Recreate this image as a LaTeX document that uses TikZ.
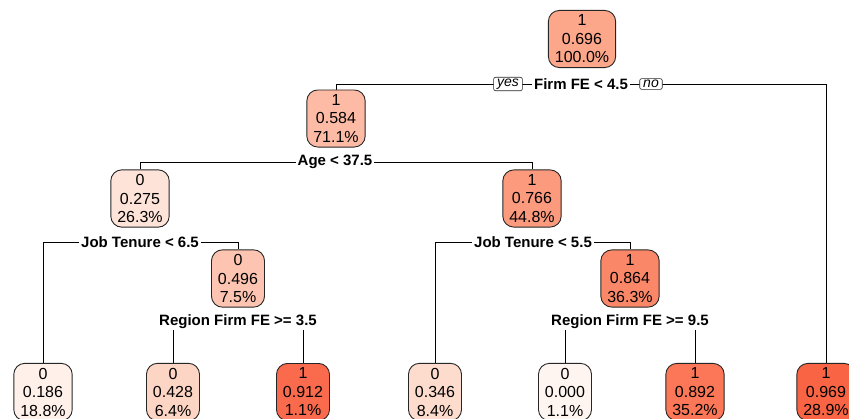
\documentclass[tikz,border=0pt]{standalone}
\usepackage{fontspec}
\setmainfont{Liberation Sans}
\usetikzlibrary{backgrounds}
\definecolor{pA}{HTML}{FCA68A}
\definecolor{pB}{HTML}{FDBBA5}
\definecolor{pC}{HTML}{FEE3D9}
\definecolor{pD}{HTML}{FC9A7E}
\definecolor{pE}{HTML}{FDC5B1}
\definecolor{pF}{HTML}{FB8769}
\definecolor{pG}{HTML}{FFF0EA}
\definecolor{pH}{HTML}{FDD5C4}
\definecolor{pI}{HTML}{FA6B4E}
\definecolor{pJ}{HTML}{FDDCCD}
\definecolor{pK}{HTML}{FFF5F0}
\definecolor{pL}{HTML}{FB7757}
\definecolor{pM}{HTML}{F96444}
\tikzset{
  treenode/.style={draw=black!85, line width=0.9pt, rounded corners=11pt,
    align=center, inner xsep=6.5pt, inner ysep=4.5pt,
    font=\fontsize{16}{18.5}\selectfont},
  splitlabel/.style={fill=white, inner xsep=2pt, inner ysep=1pt,
    font=\fontsize{15}{18}\selectfont\bfseries},
  yesno/.style={draw=black!85, fill=white, line width=0.6pt, rounded corners=2pt,
    inner xsep=3.5pt, inner ysep=1.5pt, font=\fontsize{14}{15}\selectfont\itshape}
}
\begin{document}
\begin{tikzpicture}[x=1pt, y=-1pt, line width=0.8pt]
                \useasboundingbox (0,0) rectangle (849,418);
                % Nodes
                \node[treenode, fill=pA] (n1) at (582, 39) {1\\0.696\\100.0\%};
                \node[treenode, fill=pB] (n2) at (336, 118.5) {1\\0.584\\71.1\%};
                \node[treenode, fill=pC] (n4) at (140, 198.5) {0\\0.275\\26.3\%};
                \node[treenode, fill=pD] (n5) at (532, 198.5) {1\\0.766\\44.8\%};
                \node[treenode, fill=pE] (n9) at (238, 278.5) {0\\0.496\\7.5\%};
                \node[treenode, fill=pF] (n11) at (630, 278.5) {1\\0.864\\36.3\%};
                \node[treenode, fill=pG] (n8) at (43, 392) {0\\0.186\\18.8\%};
                \node[treenode, fill=pH] (n18) at (173, 392) {0\\0.428\\6.4\%};
                \node[treenode, fill=pI] (n19) at (303, 392) {1\\0.912\\1.1\%};
                \node[treenode, fill=pJ] (n10) at (435, 392) {0\\0.346\\8.4\%};
                \node[treenode, fill=pK] (n22) at (565, 392) {0\\0.000\\1.1\%};
                \node[treenode, fill=pL] (n23) at (695, 392) {1\\0.892\\35.2\%};
                \node[treenode, fill=pM] (n3) at (826, 392) {1\\0.969\\28.9\%};
                % Split labels
                \node[splitlabel] (s1) at (581, 84) {Firm FE < 4.5};
                \node[yesno] (yes) at (508, 84) {yes};
                \node[yesno] (no) at (651, 84) {no};
                \node[splitlabel] (s2) at (335, 162) {Age < 37.5};
                \node[splitlabel] (s4) at (140, 242) {Job Tenure < 6.5};
                \node[splitlabel] (s5) at (533, 242) {Job Tenure < 5.5};
                \node[splitlabel] (s9) at (238, 322) {Region Firm FE >= 3.5};
                \node[splitlabel] (s11) at (630, 322) {Region Firm FE >= 9.5};
                % Edges
                \begin{scope}[on background layer]
                \draw (s1.center) -| (n2.north);
                \draw (s1.center) -| (n3.north);

                \draw (s2.center) -| (n4.north);
                \draw (s2.center) -| (n5.north);

                \draw (s4.center) -| (n8.north);
                \draw (s4.center) -| (n9.north);

                \draw (s5.center) -| (n10.north);
                \draw (s5.center) -| (n11.north);

                \draw (s9.center) -| (n18.north);
                \draw (s9.center) -| (n19.north);

                \draw (s11.center) -| (n22.north);
                \draw (s11.center) -| (n23.north);
                \end{scope}
\end{tikzpicture}
\end{document}
